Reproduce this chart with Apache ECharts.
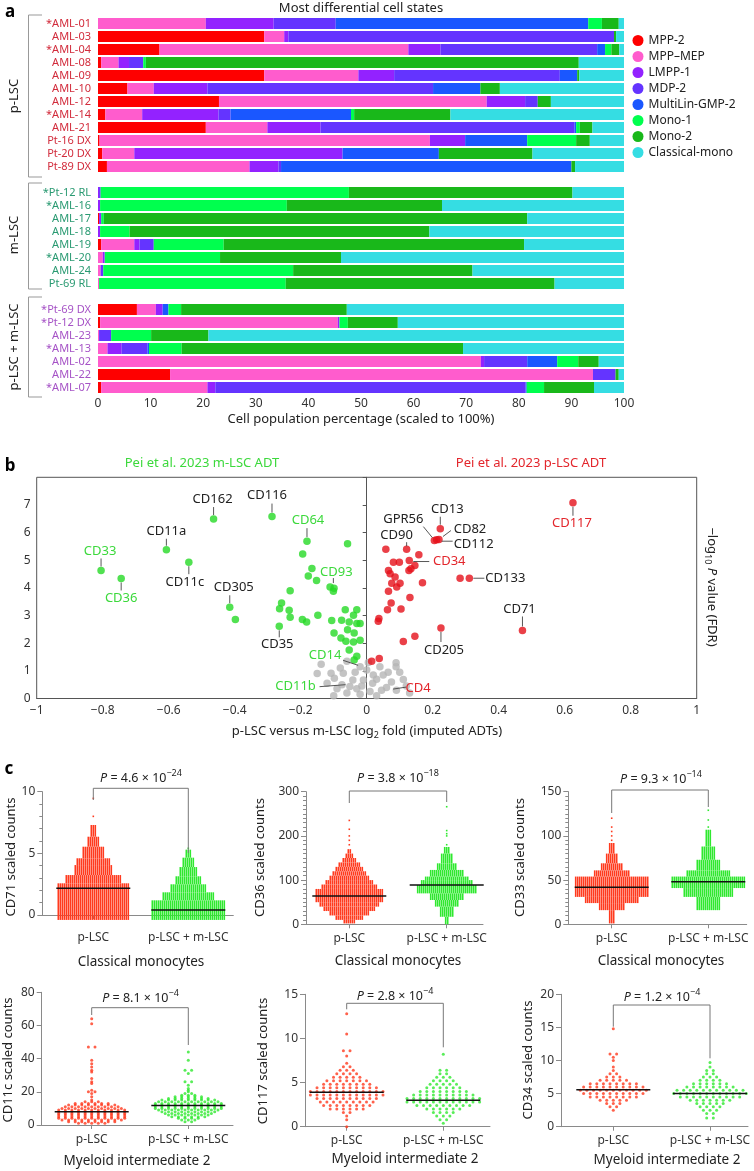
<!DOCTYPE html>
<html><head><meta charset="utf-8">
<script src="https://cdn.jsdelivr.net/npm/echarts@6/dist/echarts.min.js"></script>
<style>html,body{margin:0;padding:0;background:#fff}#c{width:754px;height:1171px}</style>
</head><body><div id="c"></div>
<script>
const FONT = "'Noto Sans', 'DejaVu Sans', sans-serif";

// ---------------- Panel a data ----------------
const sampleNames = ['*AML-01','AML-03','*AML-04','AML-08','AML-09','AML-10','AML-12','*AML-14','AML-21','Pt-16 DX','Pt-20 DX','Pt-89 DX',' ',
  '*Pt-12 RL','*AML-16','AML-17','AML-18','AML-19','*AML-20','AML-24','Pt-69 RL','  ',
  '*Pt-69 DX','*Pt-12 DX','AML-23','*AML-13','AML-02','AML-22','*AML-07'];
const sampleGroups = ['p','p','p','p','p','p','p','p','p','p','p','p','',
  'm','m','m','m','m','m','m','m','',
  'pm','pm','pm','pm','pm','pm','pm'];
const cellStates = ['MPP-2','MPP\u2013MEP','LMPP-1','MDP-2','MultiLin-GMP-2','Mono-1','Mono-2','Classical-mono'];
const mpp2      = [0,31.6,11.7,0.6,31.6,5.6,23.0,1.4,20.5,0.3,0.8,1.7,null, 0,0,0.2,0,0.6,0,0,0,null, 7.4,0.4,0,0,0,13.7,0.6];
const mppMep    = [20.5,3.8,47.3,3.3,17.9,5.0,50.9,7.0,11.7,62.8,6.1,27.1,null, 0,0,0,0,6.3,0.9,0.5,0.2,null, 3.6,45.2,0.2,1.8,72.8,80.4,20.2];
const lmpp1     = [12.9,0.8,6.1,2.0,6.8,10.2,7.3,14.5,10.1,6.7,39.6,5.5,null, 0.2,0.4,0.4,0.4,1.0,0.3,0,0,null, 1.3,0.3,0,2.7,0.6,0,1.5];
const mdp2      = [11.8,61.9,29.8,2.7,31.5,42.9,2.4,2.3,48.3,0,0,0.5,null, 0.3,0,0,0,2.7,0.1,0.5,0,null, 0,0,2.3,4.9,8.2,4.3,59.0];
const gmp2      = [48.0,0,1.5,0,3.3,9.0,0,22.9,0.3,11.8,18.3,55.2,null, 0,0,0,0,0,0,0,0,null, 1.1,0,0,0.3,5.7,0,0.2];
const mono1     = [2.6,0,1.2,0.5,0,0,0,0.6,0.7,9.3,0,0,null, 47.2,35.5,0.5,5.6,13.3,21.9,36.1,35.5,null, 2.4,1.6,7.6,6.2,4.0,0,3.3];
const mono2     = [3.2,0.4,1.5,82.3,0.4,3.7,2.5,18.3,2.4,2.6,17.8,0.7,null, 42.5,29.5,80.5,57.0,57.1,23.0,34.1,51.1,null, 31.5,9.5,10.9,53.5,3.9,0.6,9.5];
const classical = [1.0,1.5,0.9,8.6,8.5,23.6,13.9,33.0,6.0,6.5,17.4,9.3,null, 9.8,34.6,18.4,37.0,19.0,53.8,28.8,13.2,null, 52.7,43.0,79.0,30.6,4.8,1.0,5.7];

// ---------------- Panel b data ----------------
const greenPts = [[-0.805,4.63],[-0.744,4.34],[-0.607,5.38],[-0.539,4.93],[-0.464,6.49],[-0.287,6.58],[-0.415,3.30],[-0.398,2.86],
  [-0.181,5.69],[-0.194,5.23],[-0.058,5.60],[-0.166,4.70],[-0.177,4.43],[-0.152,4.27],
  [-0.111,4.03],[-0.099,3.99],[-0.101,3.88],[-0.232,3.90],[-0.258,3.45],[-0.264,3.25],[-0.235,3.19],[-0.232,2.94],
  [-0.195,2.86],[-0.182,2.77],[-0.148,3.01],[-0.265,2.61],[-0.106,2.82],[-0.076,2.83],[-0.065,3.21],[-0.030,3.21],
  [-0.040,3.01],[-0.053,2.77],[-0.030,2.71],[-0.020,2.71],[-0.099,2.37],[-0.058,2.49],[-0.038,2.37],[-0.078,2.19],
  [-0.063,2.07],[-0.040,2.04],[-0.020,2.11],[-0.053,1.75],[-0.030,1.53],[-0.038,1.39]];
const redPts = [[0.625,7.08],[0.223,6.14],[0.205,5.71],[0.212,5.74],[0.219,5.75],[0.121,5.40],[0.058,5.40],[0.158,5.20],[0.129,4.99],
  [0.081,4.93],[0.099,4.93],[0.146,4.81],[0.134,4.69],[0.128,4.63],[0.066,4.63],[0.071,4.51],[0.086,4.39],[0.076,4.17],
  [0.101,4.17],[0.091,4.03],[0.169,4.19],[0.283,4.35],[0.311,4.35],[0.066,3.88],[0.131,3.65],[0.074,3.45],[0.063,3.21],
  [0.104,3.24],[0.037,2.89],[0.035,2.79],[0.472,2.46],[0.225,2.55],[0.146,2.25],[0.111,2.06],[0.038,1.45],[0.015,1.35]];
const grayPts = [[-0.138,1.24],[-0.108,0.91],[-0.098,0.73],[-0.071,0.91],[-0.020,1.15],[0,1.03],[-0.042,0.67],[-0.010,0.67],
  [-0.051,0.43],[0.089,1.29],[0.089,1.15],[0.040,1.15],[0.05,0.85],[0.111,0.69],[0.02,0.85],[0.018,0.55],
  [-0.12,0.55],[-0.09,0.35],[-0.06,0.2],[-0.03,0.35],[-0.02,0.15],[0.01,0.25],[0.03,0.1],[0.06,0.4],[0.075,0.6],
  [0.09,0.3],[0.12,0.45],[-0.15,0.9],[-0.08,1.1],[-0.06,1.35],[-0.035,0.95],[-0.015,0.45],[0.005,1.3],[0.03,0.7],
  [0.065,0.95],[0.10,0.95],[0.13,0.2],[-0.10,0.1],[0.045,0.3],[-0.075,0.5]];
const volcanoNotes = [
  {t:'CD33', pt:[-0.805,4.63], dx:-1, dy:-19, l:[0,-4,0,-12], c:'g'},
  {t:'CD36', pt:[-0.744,4.34], dx:0, dy:20, l:[0,4,0,12], c:'g'},
  {t:'CD11a', pt:[-0.607,5.38], dx:0, dy:-18, l:[0,-4,0,-11], c:'k'},
  {t:'CD11c', pt:[-0.539,4.93], dx:-4, dy:20, l:[0,4,0,12], c:'k'},
  {t:'CD162', pt:[-0.464,6.49], dx:-1, dy:-20, l:[0,-4,0,-12], c:'k'},
  {t:'CD116', pt:[-0.287,6.58], dx:-5, dy:-21, l:[0,-4,0,-13], c:'k'},
  {t:'CD64', pt:[-0.181,5.69], dx:1, dy:-21, l:[0,-4,0,-13], c:'g'},
  {t:'CD93', pt:[-0.101,4.03], dx:3, dy:-15, l:[0,-4,0,-9], c:'g'},
  {t:'CD305', pt:[-0.415,3.30], dx:4, dy:-20, l:[0,-4,0,-12], c:'k'},
  {t:'CD35', pt:[-0.265,2.61], dx:-2, dy:18, l:[0,4,0,11], c:'k'},
  {t:'CD14', pt:[-0.02,1.2], dx:-35, dy:-10, l:[-17,-5,-2,0], c:'g'},
  {t:'CD11b', pt:[-0.055,0.5], dx:-53, dy:2, l:[-29,2,-3,0], c:'g'},
  {t:'CD4', pt:[0.071,0.34], dx:28, dy:-1, l:[3,0,16,-2], c:'r'},
  {t:'CD13', pt:[0.223,6.14], dx:7, dy:-19, l:[0,-4,0,-12], c:'k'},
  {t:'GPR56', pt:[0.205,5.71], dx:-31, dy:-21, l:[-11,-14,-2,-3], c:'k'},
  {t:'CD82', pt:[0.219,5.75], dx:31, dy:-10, l:[4,-3,12,-9], c:'k'},
  {t:'CD112', pt:[0.212,5.74], dx:37, dy:5, l:[5,1.4,16,1.4], c:'k'},
  {t:'CD90', pt:[0.121,5.40], dx:-10, dy:-14, l:[0,-3,0,-7], c:'k'},
  {t:'CD34', pt:[0.129,4.99], dx:40, dy:1, l:[4,1,20,1], c:'r'},
  {t:'CD133', pt:[0.311,4.35], dx:36, dy:0, l:[4,0,15,0], c:'k'},
  {t:'CD71', pt:[0.472,2.46], dx:-3, dy:-21, l:[0,-4,0,-14], c:'k'},
  {t:'CD205', pt:[0.225,2.55], dx:3, dy:22, l:[0,4,0,14], c:'k'},
  {t:'CD117', pt:[0.625,7.08], dx:-1, dy:21, l:[0,4,0,13], c:'r'}
];

// ---------------- Panel c data ----------------
const groupNames = ['p-LSC','p-LSC + m-LSC'];
// dense swarms: [low, high, dots across]
const cd71P = [[-0.4,2.57,36],[2.57,3.24,28],[3.24,4.05,19],[4.05,4.6,17],[4.6,5.54,11],[5.54,6.35,6],[6.35,7.3,3],[8.0,8.0,1],[9.46,9.46,1]];
const cd71M = [[-0.4,1.19,37],[1.19,1.84,26],[1.84,2.49,18],[2.49,3.14,13],[3.14,3.89,9],[3.89,4.65,6],[4.65,5.3,3],[5.41,5.41,1]];
const cd36P = [[2,10,6],[10,20,14],[20,30,20],[30,40,26],[40,50,30],[50,80,34],[80,90,28],[90,100,24],[100,110,20],[110,120,17],
  [120,130,14],[130,140,11],[140,150,7],[150,160,4],[160,170,2],[180,180,1],[190,190,1],[200,200,1],[215,215,1],[235,235,1]];
const cd36M = [[0,17,2],[17,40,7],[40,55,12],[55,70,17],[70,89,30],[89,100,26],[100,108,22],[108,123,17],[123,138,10],[138,160,6],
  [160,175,3],[180,180,1],[200,200,1],[205,205,1],[212,212,1],[266,266,1]];
const cd33P = [[1,16,3],[16,24,13],[24,31,27],[31,54,37],[54,61,18],[61,69,11],[69,80,6],[80,92,3],
  [95,95,1],[100,100,1],[105,105,1],[110,110,1],[120,120,1]];
const cd33M = [[16,31,12],[31,41,25],[41,54,37],[54,61,22],[61,73,12],[73,88,7],[88,107,3],[110,110,1],[118,118,1],[129,129,1]];
// sparse swarms: [value, dots across]
const cd11cP = [[1,5],[2,8],[3,10],[4,11],[5,11],[6,11],[7,11],[8,11],[9,11],[10,10],[11,9],[12,8],[13,6],[14,3],[15,1],
  [17,1],[19,1],[20,2],[21,1],[25,1],[26,1],[28,1],[32,1],[33,1],[35,1],[37,1],[39,1],[47,2],[61,1],[64,1]];
const cd11cM = [[2,2],[3,3],[4,4],[5,6],[6,7],[7,8],[8,9],[9,10],[10,11],[11,11],[12,11],[13,11],[14,10],[15,9],[16,7],[17,5],
  [18,3],[19,2],[20,1],[21,1],[22,1],[24,1],[26,2],[31,1],[33,2],[39,1],[44,1]];
const cd117P = [[0.0,1],[0.8,1],[1.2,1],[1.6,2],[2.0,6],[2.4,8],[2.8,9],[3.2,10],[3.6,12],[4.0,12],[4.4,10],[4.8,8],[5.2,7],
  [5.6,5],[6.0,4],[6.4,3],[6.8,2],[7.2,1],[8.0,1],[8.6,2],[10.5,1],[12.8,1]];
const cd117M = [[0.4,1],[0.8,2],[1.2,3],[1.6,4],[2.0,6],[2.4,9],[2.8,12],[3.2,12],[3.6,10],[4.0,8],[4.4,6],[4.8,5],[5.2,4],
  [5.6,3],[6.0,2],[6.4,2],[8.2,1]];
const cd34P = [[2.5,1],[3.0,2],[3.5,3],[4.0,5],[4.5,8],[5.0,10],[5.5,11],[6.0,10],[6.5,8],[7.0,5],[7.5,3],[8.0,2],[8.5,1],
  [9.0,1],[10.0,1],[10.5,1],[11.0,2],[14.8,1]];
const cd34M = [[1.3,2],[2.0,2],[2.5,3],[3.0,4],[3.5,5],[4.0,7],[4.5,10],[5.0,12],[5.5,11],[6.0,8],[6.5,6],[7.0,4],[7.5,3],
  [8.0,2],[8.5,2],[9.0,1],[9.7,1]];
const med71 = [2.16, 0.41], med36 = [64, 89], med33 = [42, 48], med11c = [8, 11.7], med117 = [3.9, 3.0], med34 = [5.6, 5.0];
const pvals = [['4.6','\u221224'],['3.8','\u221218'],['9.3','\u221214'],['8.1','\u22124'],['2.8','\u22124'],['1.2','\u22124']];

// ---------------- layout / style ----------------
const stateColors = ['#fe0000','#ff5ccd','#9322ff','#6434ff','#1a57ff','#00ff4e','#19b81a','#35dde3'];
const groupLabelColors = {p:'#d22c3c', m:'#2a9a72', pm:'#a653c6', '':'#000'};
const P_COLOR = '#ff3a1e', M_COLOR = '#2fe82f';

const cPanels = [
  {L:42.3, R:233.3, c1:93.3, c2:188.3, top:791.7, bottom:915, ymax:10, yint:5, minor:5, name:'CD71', nX:11.7, nY:857, lm:17,
   pX:141, pY:778, br:[788.3,800,853], sub:'Classical monocytes', sX:141, sY:962, dense:true, P:cd71P, M:cd71M, med:med71, pv:pvals[0]},
  {L:306, R:483, c1:349.3, c2:446.7, top:791.7, bottom:924.3, ymax:300, yint:100, minor:10, name:'CD36', nX:260, nY:857.5, lm:8,
   pX:398, pY:778, br:[791,803,802], sub:'Classical monocytes', sX:398, sY:961, dense:true, P:cd36P, M:cd36M, med:med36, pv:pvals[1]},
  {L:568.3, R:746.7, c1:611.7, c2:708.3, top:791.7, bottom:924.3, ymax:150, yint:50, minor:10, name:'CD33', nX:520, nY:857.5, lm:8,
   pX:661, pY:779, br:[790,813,807], sub:'Classical monocytes', sX:661, sY:961, dense:true, P:cd33P, M:cd33M, med:med33, pv:pvals[2]},
  {L:41.7, R:233, c1:91.7, c2:188.3, top:992.3, bottom:1125, ymax:80, yint:20, minor:0, name:'CD11c', nX:8.3, nY:1060, lm:9,
   pX:140.5, pY:998, br:[1007.7,1015,1045], sub:'Myeloid intermediate 2', sX:137, sY:1161, dense:false, P:cd11cP, M:cd11cM, med:med11c, pv:pvals[3]},
  {L:305, R:490, c1:346.7, c2:443.3, top:994.3, bottom:1126.7, ymax:15, yint:5, minor:0, name:'CD117', nX:263.3, nY:1061, lm:8,
   pX:395, pY:996, br:[1003.3,1009.3,1047.3], sub:'Myeloid intermediate 2', sX:405, sY:1159, dense:false, P:cd117P, M:cd117M, med:med117, pv:pvals[4]},
  {L:561, R:748, c1:613.3, c2:710, top:994.3, bottom:1126.7, ymax:20, yint:5, minor:0, name:'CD34', nX:528.3, nY:1060, lm:8,
   pX:662, pY:997, br:[1005,1026.7,1058.3], sub:'Myeloid intermediate 2', sX:667, sY:1160, dense:false, P:cd34P, M:cd34M, med:med34, pv:pvals[5]}
];

const chart = echarts.init(document.getElementById('c'), null, {width:754, height:1171});

const grids = [
  {left:98, top:17, width:526, height:377},
  {left:36.7, top:477.3, width:660, height:221.2, show:true, borderColor:'#555', borderWidth:1}
];
const xAxes = [
  {gridIndex:0, type:'value', min:0, max:100, interval:10, axisLine:{show:false}, axisTick:{show:false}, splitLine:{show:false},
   axisLabel:{fontSize:12, color:'#333', margin:4, fontFamily:FONT}},
  {gridIndex:1, type:'value', min:-1, max:1, interval:0.2, axisLine:{show:true, lineStyle:{color:'#555'}}, axisTick:{show:false}, splitLine:{show:false},
   axisLabel:{fontSize:12, color:'#333', margin:6, fontFamily:FONT, formatter: v => (Math.abs(v)<1e-9 ? '0' : String(+v.toFixed(1)).replace('-','\u2212'))}}
];
const yAxes = [
  {gridIndex:0, type:'category', data:sampleNames, inverse:true, axisLine:{show:false}, axisTick:{show:false}, splitLine:{show:false},
   axisLabel:{interval:0, fontSize:11, margin:7, fontFamily:FONT, color:(v, i) => groupLabelColors[sampleGroups[i]] || '#000'}},
  {gridIndex:1, type:'value', min:0, max:8, interval:1, axisLine:{show:true, onZero:true, lineStyle:{color:'#555'}},
   axisTick:{show:true, length:4, lineStyle:{color:'#555'}}, splitLine:{show:false},
   axisLabel:{fontSize:12, color:'#333', margin:6, fontFamily:FONT, formatter: v => (v >= 8 ? '' : String(v))}}
];
const series = [];
cellStates.forEach((name, k) => {
  series.push({type:'bar', name, stack:'cells', xAxisIndex:0, yAxisIndex:0, barWidth:11,
    itemStyle:{color:stateColors[k]}, silent:true,
    data:[mpp2, mppMep, lmpp1, mdp2, gmp2, mono1, mono2, classical][k]});
});
series.push({type:'scatter', name:'ns', xAxisIndex:1, yAxisIndex:1, symbolSize:7.5, itemStyle:{color:'#b5b5b5'}, data:grayPts, z:2, silent:true});
series.push({type:'scatter', name:'m-LSC ADT', xAxisIndex:1, yAxisIndex:1, symbolSize:7.5, itemStyle:{color:'#26d926'}, data:greenPts, z:3, silent:true});
series.push({type:'scatter', name:'p-LSC ADT', xAxisIndex:1, yAxisIndex:1, symbolSize:7.5, itemStyle:{color:'#e5101a'}, data:redPts, z:3, silent:true});

function bandRenderer(color){
  return function(params, api){
    const cx = api.value(0), lo = api.value(1), hi = api.value(2), n = api.value(3);
    const a = api.coord([cx, hi]), b = api.coord([cx, lo]);
    let top = a[1], h = b[1] - a[1];
    if (h < 1.6) { top = a[1] - 0.8; h = 1.6; }
    const kids = [];
    for (let j = 0; j < n; j++) {
      const x = a[0] + (j - (n - 1) / 2) * 2 - 0.8;
      kids.push({type:'rect', shape:{x, y:top, width:1.6, height:h}, style:{fill:color}});
    }
    return {type:'group', children:kids};
  };
}
function levelPoints(levels, cx, stepUnits){
  const out = [];
  levels.forEach(([v, n]) => { for (let j = 0; j < n; j++) out.push([cx + (j - (n - 1) / 2) * stepUnits, v]); });
  return out;
}

cPanels.forEach((pn, i) => {
  const gi = i + 2;
  const u = pn.c2 - pn.c1;
  const xmin = 1 - (pn.c1 - pn.L) / u, xmax = 2 + (pn.R - pn.c2) / u;
  grids.push({left:pn.L, top:pn.top, width:pn.R - pn.L, height:pn.bottom - pn.top});
  xAxes.push({gridIndex:gi, type:'value', min:xmin, max:xmax, splitLine:{show:false},
    axisLine:{show:true, onZero:false, lineStyle:{color:'#8a8a8a'}},
    axisTick:{show:true, customValues:[1,2], length:4, lineStyle:{color:'#8a8a8a'}},
    axisLabel:{customValues:[1,2], fontSize:12, color:'#333', margin:pn.lm, fontFamily:FONT,
      formatter: v => (Math.abs(v-1)<1e-6 ? groupNames[0] : (Math.abs(v-2)<1e-6 ? groupNames[1] : ''))}});
  yAxes.push({gridIndex:gi, type:'value', min:0, max:pn.ymax, interval:pn.yint, splitLine:{show:false},
    axisLine:{show:true, onZero:false, lineStyle:{color:'#8a8a8a'}},
    axisTick:{show:true, length:5, lineStyle:{color:'#8a8a8a'}},
    minorTick:{show:pn.minor > 0, splitNumber:pn.minor || 5, length:3, lineStyle:{color:'#8a8a8a'}},
    axisLabel:{fontSize:12, color:'#333', margin:7, fontFamily:FONT}});
  if (pn.dense) {
    series.push({type:'custom', xAxisIndex:gi, yAxisIndex:gi, renderItem:bandRenderer(P_COLOR), silent:true, clip:false,
      encode:{x:0, y:[1,2]}, data:pn.P.map(b => [1, b[0], b[1], b[2]])});
    series.push({type:'custom', xAxisIndex:gi, yAxisIndex:gi, renderItem:bandRenderer(M_COLOR), silent:true, clip:false,
      encode:{x:0, y:[1,2]}, data:pn.M.map(b => [2, b[0], b[1], b[2]])});
  } else {
    const step = 6.6 / u;
    series.push({type:'scatter', xAxisIndex:gi, yAxisIndex:gi, symbolSize:3, itemStyle:{color:P_COLOR}, silent:true,
      data:levelPoints(pn.P, 1, step)});
    series.push({type:'scatter', xAxisIndex:gi, yAxisIndex:gi, symbolSize:3, itemStyle:{color:M_COLOR}, silent:true,
      data:levelPoints(pn.M, 2, step)});
  }
  const hw = 37 / u;
  [1, 2].forEach((cx, k) => {
    series.push({type:'line', xAxisIndex:gi, yAxisIndex:gi, showSymbol:false, symbol:'none', silent:true, z:6,
      lineStyle:{color:'#111', width:1.5}, data:[[cx - hw, pn.med[k]], [cx + hw, pn.med[k]]]});
  });
});

chart.setOption({
  animation:false,
  textStyle:{fontFamily:FONT},
  grid:grids, xAxis:xAxes, yAxis:yAxes, series,
  legend:{data:cellStates, orient:'vertical', left:627.5, top:29.5, itemWidth:11, itemHeight:11, itemGap:4, icon:'circle',
    selectedMode:false, textStyle:{fontSize:12, color:'#222', fontFamily:FONT}}
});

// ---------------- annotations ----------------
const G = [];
function txt(x, y, text, o) {
  o = o || {};
  G.push({type:'text', x, y, rotation:o.rot || 0, z:100, silent:true,
    style:{text, fill:o.color || '#222', fontSize:o.size || 13, fontFamily:FONT, fontWeight:o.weight || 'normal',
      align:o.align || 'center', verticalAlign:'middle', textAlign:o.align || 'center', textVerticalAlign:'middle', rich:o.rich}});
}
function pline(points, color, w) {
  G.push({type:'polyline', z:100, silent:true, shape:{points}, style:{stroke:color || '#888', lineWidth:w || 1, fill:null}});
}
// panel a
txt(10, 12, 'a', {size:17, weight:'bold', color:'#000'});
txt(361, 8, 'Most differential cell states', {size:13});
pline([[42,15],[28.5,15],[28.5,177],[42,177]], '#999');
pline([[42,183],[28.5,183],[28.5,289],[42,289]], '#999');
pline([[42,297],[28.5,297],[28.5,397],[42,397]], '#999');
txt(14, 96, 'p-LSC', {rot:Math.PI/2, size:13});
txt(14, 235, 'm-LSC', {rot:Math.PI/2, size:13});
txt(14, 347, 'p-LSC + m-LSC', {rot:Math.PI/2, size:13});
txt(361, 419, 'Cell population percentage (scaled to 100%)', {size:13});
// panel b
txt(10, 466, 'b', {size:17, weight:'bold', color:'#000'});
txt(202, 463, 'Pei et al. 2023 m-LSC ADT', {size:13, color:'#3cd93c'});
txt(531, 463, 'Pei et al. 2023 p-LSC ADT', {size:13, color:'#e3262c'});
txt(367, 731, 'p-LSC versus m-LSC log{s|2} fold (imputed ADTs)', {size:13,
  rich:{s:{fontSize:9, fontFamily:FONT, fill:'#222', padding:[8,0,0,0]}}});
txt(712, 587, '\u2212log{s|10} {i|P} value (FDR)', {size:13, rot:-Math.PI/2,
  rich:{s:{fontSize:9, fontFamily:FONT, fill:'#222', padding:[8,0,0,0]}, i:{fontSize:13, fontStyle:'italic', fontFamily:FONT, fill:'#222'}}});
const noteColors = {g:'#3cd93c', r:'#e3262c', k:'#222'};
volcanoNotes.forEach(n => {
  const p = chart.convertToPixel({xAxisIndex:1, yAxisIndex:1}, n.pt);
  pline([[p[0] + n.l[0], p[1] + n.l[1]], [p[0] + n.l[2], p[1] + n.l[3]]], '#444', 0.9);
  txt(p[0] + n.dx, p[1] + n.dy, n.t, {size:13, color:noteColors[n.c]});
});
// panel c
txt(9, 769, 'c', {size:17, weight:'bold', color:'#000'});
cPanels.forEach(pn => {
  txt(pn.nX, pn.nY, pn.name + ' scaled counts', {size:13, rot:Math.PI/2});
  txt(pn.sX, pn.sY, pn.sub, {size:13.5});
  pline([[pn.c1, pn.br[1]], [pn.c1, pn.br[0]], [pn.c2, pn.br[0]], [pn.c2, pn.br[2]]], '#777', 1);
  txt(pn.pX, pn.pY, '{i|P} = ' + pn.pv[0] + ' \u00d7 10{s|' + pn.pv[1] + '}', {size:12.5,
    rich:{i:{fontStyle:'italic', fontSize:12.5, fontFamily:FONT, fill:'#222'}, s:{fontSize:9, fontFamily:FONT, fill:'#222', padding:[0,0,9,0]}}});
});
chart.setOption({graphic:G});
</script></body></html>
